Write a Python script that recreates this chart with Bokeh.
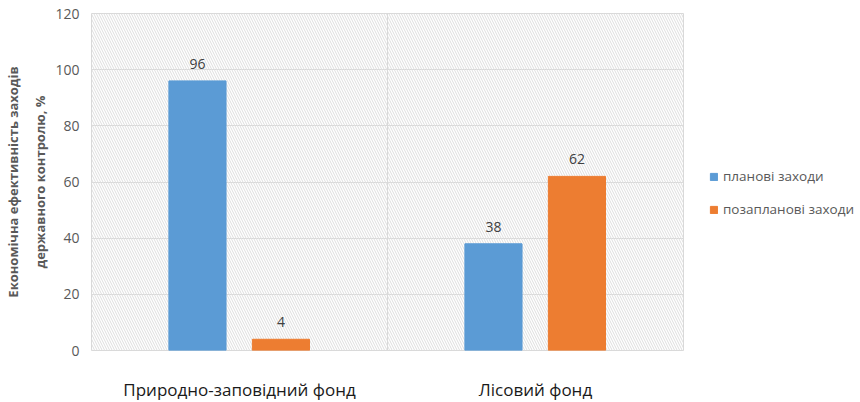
from bokeh.plotting import figure
from bokeh.models import (ColumnDataSource, FactorRange, LabelSet, Legend, LegendItem,
                          Span, BoxAnnotation)
from bokeh.core.properties import value
from bokeh.transform import dodge
from bokeh.embed import file_html
from bokeh.resources import INLINE

categories = ["Природно-заповідний фонд", "Лісовий фонд"]
planned = [96, 38]
unplanned = [4, 62]
series_names = ["планові заходи", "позапланові заходи"]
y_ticks = [0, 20, 40, 60, 80, 100, 120]

FONT = "Open Sans"
BLUE = "#5B9BD5"
ORANGE = "#ED7D31"
GRAY = "#595959"

src = ColumnDataSource(dict(cat=categories, planned=planned, unplanned=unplanned,
                            planned_lbl=[str(v) for v in planned],
                            unplanned_lbl=[str(v) for v in unplanned]))

p = figure(x_range=FactorRange(*categories, range_padding=0), y_range=(0, 120),
           frame_width=592, frame_height=337, output_backend="svg", toolbar_location=None,
           min_border_left=88, min_border_right=178, min_border_top=13, min_border_bottom=50)

p.add_layout(BoxAnnotation(fill_alpha=0, hatch_pattern="\\", hatch_color="#dedede",
                           hatch_scale=5, hatch_weight=1, line_color=None, level="underlay"))

r1 = p.vbar(x=dodge("cat", -0.142, range=p.x_range), top="planned", width=0.193,
            source=src, color=BLUE)
r2 = p.vbar(x=dodge("cat", 0.14, range=p.x_range), top="unplanned", width=0.193,
            source=src, color=ORANGE)

for col, off in (("planned", -0.142), ("unplanned", 0.14)):
    p.add_layout(LabelSet(x=dodge("cat", off, range=p.x_range), y=col, text=col + "_lbl",
                          source=src, text_align="center", text_baseline="bottom",
                          y_offset=12, text_font=value(FONT), text_font_size="14px",
                          text_color="#404040"))

p.add_layout(Span(location=1, dimension="height", line_color="#d9d9d9", line_width=1))

p.xgrid.grid_line_color = None
p.ygrid.grid_line_color = "#d9d9d9"
p.ygrid.ticker = y_ticks
p.yaxis.ticker = y_ticks
p.outline_line_color = "#d9d9d9"

p.yaxis.axis_line_color = None
p.yaxis.major_tick_line_color = None
p.yaxis.major_tick_out = 0
p.yaxis.minor_tick_line_color = None
p.yaxis.major_label_text_font = FONT
p.yaxis.major_label_text_font_size = "14px"
p.yaxis.major_label_text_color = GRAY
p.yaxis.major_label_standoff = 12
p.yaxis.axis_label = "Економічна ефективність заходів\nдержавного контролю, %"
p.yaxis.axis_label_text_font = FONT
p.yaxis.axis_label_text_font_size = "13px"
p.yaxis.axis_label_text_font_style = "bold"
p.yaxis.axis_label_text_color = GRAY
p.yaxis.axis_label_text_line_height = 1.55
p.yaxis.axis_label_standoff = 3

p.xaxis.axis_line_color = None
p.xaxis.major_tick_line_color = None
p.xaxis.major_tick_out = 0
p.xaxis.major_label_text_font = FONT
p.xaxis.major_label_text_font_size = "17px"
p.xaxis.major_label_text_color = "#1a1a1a"
p.xaxis.major_label_standoff = 27

legend = Legend(items=[LegendItem(label=series_names[0], renderers=[r1]),
                       LegendItem(label=series_names[1], renderers=[r2])],
                location=(26, 132), border_line_color=None, background_fill_alpha=0,
                glyph_width=9, glyph_height=9, label_text_font=FONT,
                label_text_font_size="13.5px", label_text_color=GRAY, spacing=15,
                label_standoff=5, padding=0, margin=0)
p.add_layout(legend, "right")

open("out.html", "w").write(file_html(p, INLINE))
